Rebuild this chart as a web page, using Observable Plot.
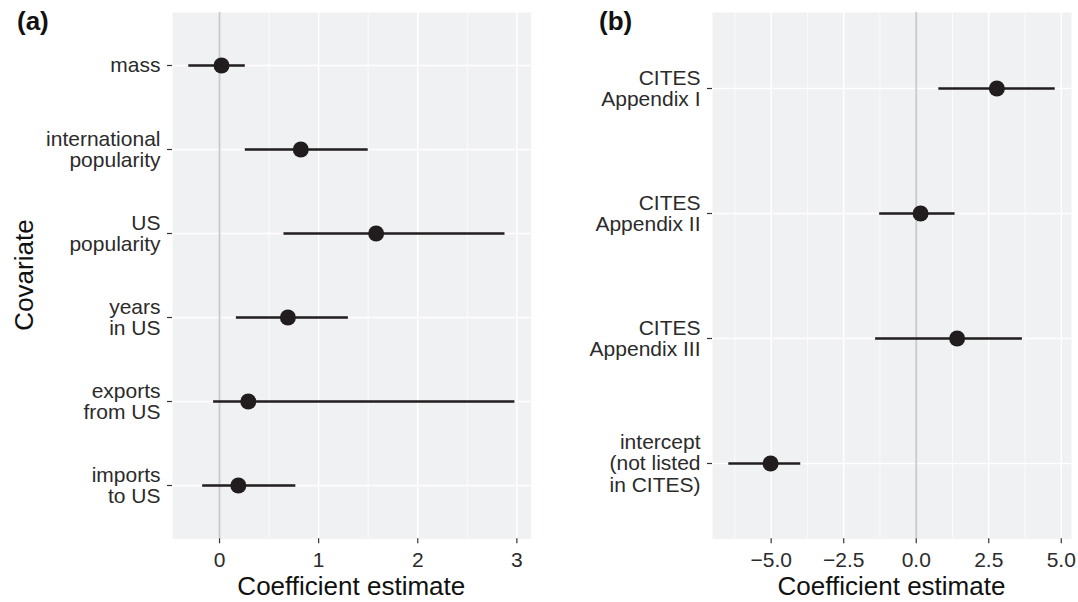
<!DOCTYPE html>
<html><head><meta charset="utf-8">
<script src="https://cdn.jsdelivr.net/npm/d3@7"></script>
<script src="https://cdn.jsdelivr.net/npm/@observablehq/plot@0.6"></script>
<style>
html,body{margin:0;padding:0;background:#fff;overflow:hidden;}
#wrap{position:relative;width:1078px;height:602px;font-family:"Liberation Sans",Arial,Helvetica,sans-serif;}
#pa,#pb,#ov{position:absolute;top:0;}
#pa{left:0}#pb{left:540px}#ov{left:0;pointer-events:none}
</style></head><body>
<div id="wrap"><div id="pa"></div><div id="pb"></div>
<svg id="ov" width="1078" height="602" font-family="Liberation Sans, Arial, Helvetica, sans-serif">
  <text x="17" y="30" font-size="26" font-weight="bold" fill="#111">(a)</text>
  <text x="599" y="30" font-size="26" font-weight="bold" fill="#111">(b)</text>
  <text x="351.3" y="595" font-size="26" text-anchor="middle" fill="#111">Coefficient estimate</text>
  <text x="891.5" y="595" font-size="26" text-anchor="middle" fill="#111">Coefficient estimate</text>
  <text x="33" y="275" font-size="26" text-anchor="middle" fill="#111" transform="rotate(-90,33,275)">Covariate</text>
</svg>
</div>
<script>
// Panel (a)
const covariatesA = ["mass","international\npopularity","US\npopularity","years\nin US","exports\nfrom US","imports\nto US"];
const estimateA = [0.02, 0.82, 1.58, 0.69, 0.29, 0.19];
const lowerA = [-0.31, 0.26, 0.65, 0.17, -0.06, -0.17];
const upperA = [0.26, 1.50, 2.88, 1.30, 2.98, 0.77];
const ticksA = [0, 1, 2, 3];
const minorTicksA = [0.5, 1.5, 2.5];

// Panel (b)
const covariatesB = ["CITES\nAppendix I","CITES\nAppendix II","CITES\nAppendix III","intercept\n(not listed\nin CITES)"];
const estimateB = [2.78, 0.15, 1.41, -5.02];
const lowerB = [0.78, -1.26, -1.40, -6.46];
const upperB = [4.79, 1.34, 3.66, -3.98];
const ticksB = [-5, -2.5, 0, 2.5, 5];
const minorTicksB = [-6.25, -3.75, -1.25, 1.25, 3.75];

function panel(names, est, lo, hi, ticks, minor, fmt, width, marginRight) {
  const data = names.map((n, i) => ({name: n, est: est[i], lo: lo[i], hi: hi[i]}));
  const mn = d3.min(lo), mx = d3.max(hi), r = mx - mn;
  const ink = "#211d1e";
  return Plot.plot({
    width, height: 602,
    marginLeft: 172, marginRight, marginTop: 12, marginBottom: 63.7,
    style: {background: "transparent", fontFamily: "Liberation Sans, Arial, Helvetica, sans-serif", fontSize: "21px", color: "#2b2b2b"},
    x: {domain: [mn - 0.05 * r, mx + 0.05 * r]},
    y: {type: "point", domain: names, padding: 0.6},
    marks: [
      Plot.frame({fill: "#f0f1f3", stroke: null}),
      Plot.ruleX(minor, {stroke: "#ffffff", strokeWidth: 0.7}),
      Plot.ruleX(ticks, {stroke: "#ffffff", strokeWidth: 1.4}),
      Plot.ruleY(names, {stroke: "#ffffff", strokeWidth: 1.4}),
      Plot.ruleX([0], {stroke: "#c8c9cb", strokeWidth: 1.8}),
      Plot.ruleY(data, {y: "name", x1: "lo", x2: "hi", stroke: ink, strokeWidth: 2.3}),
      Plot.dot(data, {x: "est", y: "name", r: 8, fill: ink, stroke: null}),
      Plot.axisX({ticks, tickFormat: fmt, tickSize: 5, tickPadding: 8, label: null, stroke: "#333", strokeWidth: 1.2, fill: "#2b2b2b"}),
      Plot.axisY({tickSize: 5, tickPadding: 7, label: null, lineHeight: 1.03, stroke: "#333", strokeWidth: 1.2, fill: "#2b2b2b"})
    ]
  });
}

document.getElementById("pa").appendChild(panel(covariatesA, estimateA, lowerA, upperA, ticksA, minorTicksA, d3.format("d"), 540, 9.3));
document.getElementById("pb").appendChild(panel(covariatesB, estimateB, lowerB, upperB, ticksB, minorTicksB, d3.format(".1f"), 538, 7));
</script>
</body></html>
